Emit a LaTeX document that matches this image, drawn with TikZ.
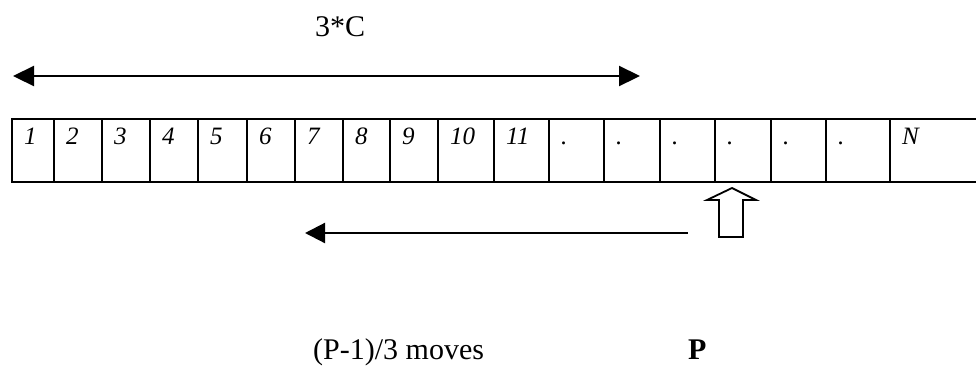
\documentclass[tikz,border=0pt]{standalone}
\usepackage{fontspec}
\setmainfont{Liberation Serif}
\usetikzlibrary{arrows.meta}
\begin{document}
\begin{tikzpicture}[x=1pt,y=-1pt,
  cellbox/.style={draw,line width=1.5pt,anchor=north west,inner sep=0pt,minimum height=63pt},
  celltext/.style={anchor=base west,inner sep=0pt,font=\fontsize{25}{29}\selectfont\itshape},
  bigtext/.style={inner sep=0pt,font=\fontsize{30}{34}\selectfont},
  longarrow/.style={line width=2.2pt,{Triangle[length=21pt,width=20pt]}-{Triangle[length=21pt,width=20pt]}},
  leftarrow/.style={line width=2.2pt,{Triangle[length=20pt,width=20pt]}-}]
\useasboundingbox (0,0) rectangle (976,368);
\clip (0,0) rectangle (976,368);
\fill[white] (0,0) rectangle (976,368);
% cells
\foreach \a/\b/\t [count=\i] in {11/53/1,53/101/2,101/149/3,149/197/4,197/246/5,246/294/6,294/342/7,342/389/8,389/437/9,437/493/10,493/548/11,548/603/.,603/659/.,659/714/.,714/770/.,770/825/.,825/889/.,889/990/N}{
  \pgfmathsetmacro\w{\b-\a}
  \node[cellbox,minimum width=\w pt] (c\i) at (\a,118) {};
  \node[celltext] (t\i) at (\a+13,144) {\t};
}
% top double arrow
\coordinate (tl) at (13,76);
\coordinate (tr) at (640,76);
\draw[longarrow] (tl) -- (tr);
\node[bigtext,anchor=base] (lc) at (340,36) {3*C};
% bottom arrow
\coordinate (bl) at (305,233);
\coordinate (br) at (688,233);
\draw[leftarrow] (bl) -- (br);
% block arrow
\draw[line width=1.8pt,fill=white,line join=miter]
  (732,188) -- (756,200) -- (743,200) -- (743,237) -- (719,237) -- (719,200) -- (707,200) -- cycle;
\node[bigtext,anchor=base west] (lm) at (313,359) {(P-1)/3 moves};
\node[bigtext,anchor=base west] (lp) at (688,359) {\bfseries P};
\end{tikzpicture}
\end{document}
